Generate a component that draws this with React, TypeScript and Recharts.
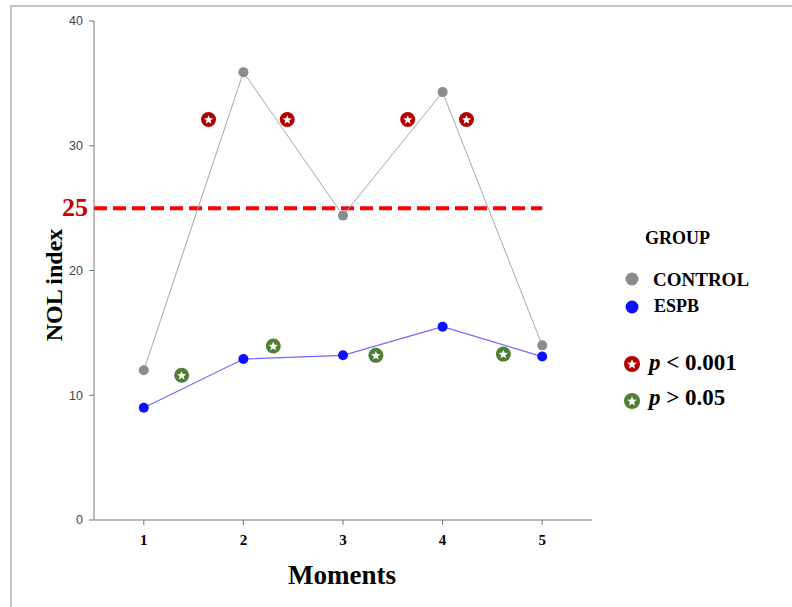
import { ComposedChart, Line, Scatter, XAxis, YAxis, ReferenceLine } from 'recharts';

const moments = [1, 2, 3, 4, 5];
const controlValues = [12.0, 35.9, 24.4, 34.3, 14.0];
const espbValues = [9.0, 12.9, 13.2, 15.5, 13.1];

// significance badges placed between moments
const strongX = [1.65, 2.44, 3.65, 4.24];
const strongY = [32.1, 32.1, 32.1, 32.1];
const weakX = [1.38, 2.3, 3.33, 4.61];
const weakY = [11.6, 13.95, 13.2, 13.3];

const yTicks = [0, 10, 20, 30, 40];
const threshold = 25;

const GRAY = '#8c8c8c';
const BLUE = '#1010ff';
const RED_BADGE = '#b00000';
const GREEN_BADGE = '#4f7f34';
const SERIF = '"Liberation Serif", "Times New Roman", serif';

const rows = moments.map((m, i) => ({ x: m, control: controlValues[i], espb: espbValues[i] }));
const strongPts = strongX.map((x, i) => ({ x, y: strongY[i] }));
const weakPts = weakX.map((x, i) => ({ x, y: weakY[i] }));

function starPath(cx: number, cy: number, outer: number, inner: number) {
  let d = '';
  for (let i = 0; i < 10; i++) {
    const r = i % 2 === 0 ? outer : inner;
    const a = -Math.PI / 2 + (i * Math.PI) / 5;
    d += (i === 0 ? 'M' : 'L') + (cx + r * Math.cos(a)).toFixed(2) + ',' + (cy + r * Math.sin(a)).toFixed(2);
  }
  return d + 'Z';
}

function Badge({ cx, cy, color, r = 7.5 }: { cx: number; cy: number; color: string; r?: number }) {
  return (
    <g>
      <circle cx={cx} cy={cy} r={r} fill={color} />
      <path d={starPath(cx, cy + 0.4, r * 0.64, r * 0.28)} fill="#fff" />
    </g>
  );
}

export default function App() {
  return (
    <div style={{ position: 'absolute', left: 0, top: 0, width: 792, height: 607, background: '#fff', overflow: 'hidden' }}>
      <div
        style={{
          position: 'absolute',
          left: 10,
          top: 5,
          right: -10,
          bottom: -10,
          borderTop: '2px solid #c4c4c4',
          borderLeft: '2px solid #c4c4c4',
        }}
      />
      <div style={{ position: 'absolute', left: 0, top: 0 }}>
        <ComposedChart width={792} height={607} data={rows} margin={{ top: 21, right: 200, bottom: 47, left: 34 }}>
          <XAxis
            dataKey="x"
            type="number"
            domain={[0.5, 5.5]}
            ticks={moments}
            allowDataOverflow
            height={40}
            stroke="#777"
            tickSize={5}
            tickMargin={9}
            tick={{ fill: '#000', fontFamily: SERIF, fontWeight: 'bold', fontSize: 15 }}
          />
          <YAxis
            type="number"
            domain={[0, 40]}
            ticks={yTicks}
            width={60}
            stroke="#777"
            tickSize={5}
            tickMargin={6}
            tick={{ fill: '#444', fontFamily: 'Arial, "Liberation Sans", sans-serif', fontSize: 12.5 }}
          />
          <ReferenceLine
            segment={[{ x: 0.5, y: threshold }, { x: 5, y: threshold }]}
            stroke="#ff0000"
            strokeWidth={4}
            strokeDasharray="13 6"
          />
          <Line
            dataKey="control"
            stroke="#a8a8a8"
            strokeWidth={1}
            dot={{ r: 5, fill: GRAY, stroke: 'none' }}
            isAnimationActive={false}
          />
          <Line
            dataKey="espb"
            stroke="#6b6bff"
            strokeWidth={1.2}
            dot={{ r: 5, fill: BLUE, stroke: 'none' }}
            isAnimationActive={false}
          />
          <Scatter
            data={strongPts}
            dataKey="y"
            isAnimationActive={false}
            shape={(p: any) => <Badge cx={p.cx} cy={p.cy} color={RED_BADGE} />}
          />
          <Scatter
            data={weakPts}
            dataKey="y"
            isAnimationActive={false}
            shape={(p: any) => <Badge cx={p.cx} cy={p.cy} color={GREEN_BADGE} />}
          />
        </ComposedChart>
      </div>
      <svg width={792} height={607} style={{ position: 'absolute', left: 0, top: 0, pointerEvents: 'none' }}>
        <text x={88} y={216} textAnchor="end" fill="#c80000" fontFamily={SERIF} fontWeight="bold" fontSize={26}>
          {threshold}
        </text>
        <text
          transform="translate(62,285) rotate(-90)"
          textAnchor="middle"
          fill="#000"
          fontFamily={SERIF}
          fontWeight="bold"
          fontSize={24}
        >
          NOL index
        </text>
        <text x={342} y={584} textAnchor="middle" fill="#000" fontFamily={SERIF} fontWeight="bold" fontSize={27}>
          Moments
        </text>

        <text x={645} y={244} fill="#000" fontFamily={SERIF} fontWeight="bold" fontSize={18}>
          GROUP
        </text>
        <circle cx={632} cy={279} r={6.5} fill={GRAY} />
        <text x={653} y={286} fill="#000" fontFamily={SERIF} fontWeight="bold" fontSize={19}>
          CONTROL
        </text>
        <circle cx={632} cy={307} r={6.5} fill={BLUE} />
        <text x={654} y={312} fill="#000" fontFamily={SERIF} fontWeight="bold" fontSize={18}>
          ESPB
        </text>

        <Badge cx={632} cy={364} color={RED_BADGE} r={8} />
        <text x={649} y={370} fill="#000" fontFamily={SERIF} fontWeight="bold" fontSize={23}>
          <tspan fontStyle="italic">p</tspan> &lt; 0.001
        </text>
        <Badge cx={632} cy={401} color={GREEN_BADGE} r={8} />
        <text x={649} y={405} fill="#000" fontFamily={SERIF} fontWeight="bold" fontSize={23}>
          <tspan fontStyle="italic">p</tspan> &gt; 0.05
        </text>
      </svg>
    </div>
  );
}
